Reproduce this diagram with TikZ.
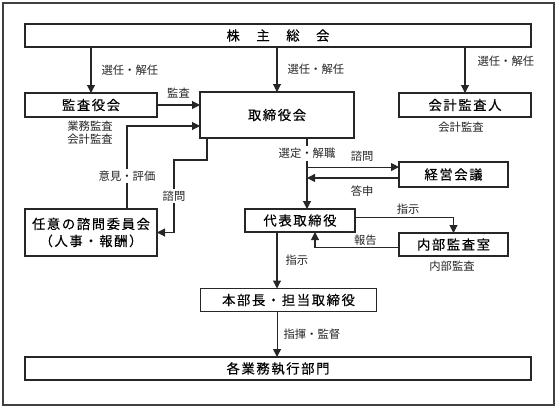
\documentclass[tikz,border=0pt]{standalone}
\usepackage{fontspec}
\setmainfont{Noto Sans CJK JP}
\newfontfamily\boxfont[LetterSpace=12, FakeBold=0.3]{Noto Sans CJK JP}
\usetikzlibrary{arrows.meta}
\tikzstyle{organ} = [rectangle, draw=black!85, line width=1.1pt, inner sep=0pt, outer sep=0pt, align=center, text=black, font=\boxfont\fontsize{10}{12.75}\selectfont]
\tikzstyle{note} = [inner sep=1.5pt, text=black!85, font=\fontsize{8.5}{9.75}\selectfont]
\tikzstyle{arrow} = [line width=0.8pt, draw=black!85, -{Triangle[length=6pt, width=6pt]}]

\begin{document}
\begin{tikzpicture}[x=0.75pt, y=-0.75pt]
\useasboundingbox (0,0) rectangle (556,407);
\draw [line width=1.5pt, black!75] (2.5,2.5) rectangle (553.5,405);
\node (gm) [organ, minimum width=379.5pt, minimum height=17.25pt] at (278,35.5) {株　主　総　会};
\node (kansa) [organ, minimum width=99pt, minimum height=18pt] at (91,105) {監査役会};
\node (board) [organ, minimum width=115.5pt, minimum height=34.5pt] at (277,115) {取締役会};
\node (auditor) [organ, minimum width=99pt, minimum height=18pt] at (465,105) {会計監査人};
\node (advisory) [organ, minimum width=99pt, minimum height=35.25pt] at (91,232.5) {任意の諮問委員会\\（人事・報酬）};
\node (ceo) [organ, minimum width=82.5pt, minimum height=17.25pt] at (300,220.5) {代表取締役};
\node (mgmt) [organ, minimum width=81.75pt, minimum height=18.75pt] at (453.5,174.5) {経営会議};
\node (internal) [organ, minimum width=81.75pt, minimum height=17.25pt] at (453.5,244.5) {内部監査室};
\node (heads) [organ, minimum width=132pt, minimum height=17.25pt] at (288.5,300) {本部長・担当取締役};
\node (divisions) [organ, minimum width=379.5pt, minimum height=17.25pt] at (278,368.5) {各業務執行部門};
\node (kansanote) [note, align=center] at (90,132.5) {業務監査\\会計監査};
\node (auditornote) [note] at (461,127) {会計監査};
\node (internalnote) [note] at (452,266) {内部監査};
\coordinate (trunk) at ([xshift=22.5pt]board.south);
\coordinate (elbow) at (174,160);
\draw [arrow] (gm.south -| kansa.north) -- node[note, right, xshift=6pt] {選任・解任} (kansa.north);
\draw [arrow] (board.north |- gm.south) -- node[note, right, xshift=6pt] {選任・解任} (board.north);
\draw [arrow] (gm.south -| auditor.north) -- node[note, right, xshift=7.5pt, pos=0.3] {選任・解任} (auditor.north);
\draw [arrow] (kansa.east) -- node[note, above, yshift=3pt] {監査} (kansa.east -| board.west);
\draw [arrow] ([xshift=27pt]advisory.north) |- node[note, fill=white, pos=0.2] {意見・評価} ([yshift=-8.25pt]board.west);
\draw [arrow] ([xshift=-52.5pt]board.south) |- (elbow) |- node[note, fill=white, pos=0.25] {諮問} (advisory.east);
\draw [arrow] (trunk) -- node[note, fill=white, pos=0.22] {選定・解職} (trunk |- ceo.north);
\draw [arrow] ([yshift=5.6pt]mgmt.west -| trunk) -- node[note, above, pos=0.6, yshift=2pt] {諮問} ([yshift=5.6pt]mgmt.west);
\draw [arrow] ([yshift=-2.6pt]mgmt.west) -- node[note, below, pos=0.4, yshift=-4pt] {答申} ([yshift=-2.6pt]mgmt.west -| trunk);
\draw [arrow] ([yshift=2.6pt]ceo.east) -| node[note, above, pos=0.27] {指示} (internal.north);
\draw [arrow] ([yshift=-1.9pt]internal.west) -| node[note, above, pos=0.2, yshift=-1pt] {報告} ([xshift=11.25pt]ceo.south);
\draw [arrow] ([xshift=-17.25pt]ceo.south) -- node[note, right, xshift=4.5pt] {指示} ([xshift=-17.25pt]ceo.south |- heads.north);
\draw [arrow] ([xshift=-8.6pt]heads.south) -- node[note, right, xshift=3pt] {指揮・監督} ([xshift=-8.6pt]heads.south |- divisions.north);
\end{tikzpicture}
\end{document}
